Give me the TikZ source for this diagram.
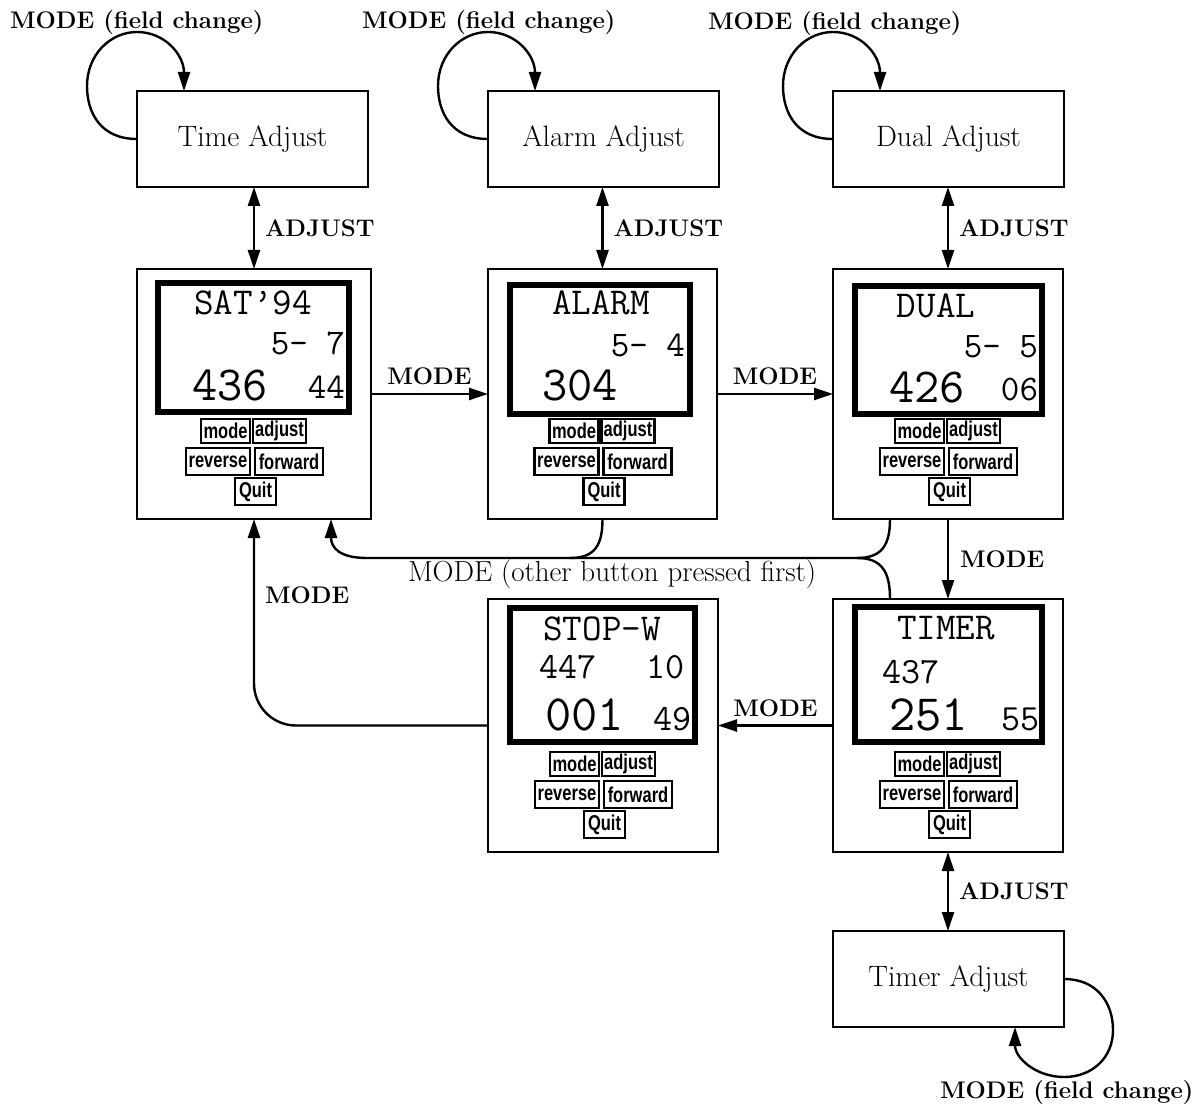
\documentclass[tikz,border=0pt]{standalone}
\usepackage{graphicx}
\usepackage{fontspec}
\usetikzlibrary{arrows.meta,calc}
\newfontfamily\btnfont{Liberation Sans}
\newcommand{\dtxt}[2]{{\ttfamily\fontsize{#1}{#1}\selectfont #2}}
\newcommand{\btxt}[1]{\scalebox{1}[1.3]{\btnfont\bfseries\fontsize{16.5}{17}\selectfont #1}}
\tikzset{
  lbl/.style={font=\fontsize{24}{28}\selectfont\bfseries, inner sep=0pt, outer sep=0pt},
  txt/.style={font=\fontsize{29}{33}\selectfont\addfontfeatures{FakeBold=0.5}, inner sep=0pt, outer sep=0pt},
  adjbox/.style={draw, line width=2.2pt, minimum width=231pt, minimum height=96pt, anchor=north west, inner sep=0pt, outer sep=0pt, font=\fontsize{29.5}{33}\selectfont\addfontfeatures{FakeBold=0.5}},
  watch/.style={draw, line width=2pt, anchor=north west, inner sep=0pt, outer sep=0pt},
  lcd/.style={draw, line width=6pt, anchor=north west, inner sep=0pt, outer sep=0pt},
  btn/.style={draw, line width=2.4pt, anchor=north west, inner sep=0pt, outer sep=0pt},
  dt/.style={inner sep=0pt, outer sep=0pt},
  arr/.style={line width=2.4pt, -{Triangle[length=19pt,width=12pt]}},
  dbl/.style={line width=2.4pt, {Triangle[length=19pt,width=12pt]}-{Triangle[length=19pt,width=12pt]}},
  plain/.style={line width=2.4pt}
}
\newcommand{\watchunit}[9]{%
  \node[watch, minimum width=#4pt, minimum height=#5pt] (#1) at (#2,#3) {};
  \node[lcd, minimum width=#8pt, minimum height=#9pt] (#1-lcd) at (#6,#7) {};
  \node[btn, minimum width=49pt, minimum height=24pt] (#1-mode) at ($(#1.south)+(-53,-100)$) {\btxt{mode}};
  \node[btn, minimum width=53pt, minimum height=24pt] (#1-adj) at ($(#1.south)+(-1,-100)$) {\btxt{adjust}};
  \node[btn, minimum width=64pt, minimum height=27pt] (#1-rev) at ($(#1.south)+(-68,-71)$) {\btxt{reverse}};
  \node[btn, minimum width=68pt, minimum height=27pt] (#1-fwd) at ($(#1.south)+(1,-71)$) {\btxt{forward}};
  \node[btn, minimum width=41pt, minimum height=27pt] (#1-quit) at ($(#1.south)+(-19,-41)$) {\btxt{Quit}};
}
\begin{document}
\begin{tikzpicture}[x=1pt,y=-1pt]
\fill[white] (0,0) rectangle (1194,1107);
\useasboundingbox (0,0) rectangle (1194,1107);

% adjust boxes
\node[adjbox] (ta) at (137,91) {Time Adjust};
\node[adjbox] (aa) at (488,91) {Alarm Adjust};
\node[adjbox] (da) at (833,91) {Dual Adjust};
\node[adjbox] (tia) at (833,931) {Timer Adjust};

% watches
\watchunit{sat}{137}{269}{234}{250}{158}{283}{191}{129}
\watchunit{alarm}{488}{269}{229}{250}{510}{285}{180}{129}
\watchunit{dual}{833}{269}{230}{250}{855}{286}{187}{128}
\watchunit{stop}{488}{599}{230}{253}{510}{608}{185}{134}
\watchunit{timer}{833}{599}{230}{253}{855}{607}{187}{135}

% display texts
\node[dt, anchor=base] (s1) at (253,315) {\dtxt{38}{SAT’94}};
\node[dt, anchor=base east] (s2) at (345,354) {\dtxt{36}{5- 7}};
\node[dt, anchor=base west] (s3) at (192,400) {\dtxt{49}{436}};
\node[dt, anchor=base east] (s4) at (345,398) {\dtxt{36}{44}};

\node[dt, anchor=base] (a1) at (601,315) {\dtxt{38}{ALARM}};
\node[dt, anchor=base east] (a2) at (685,356) {\dtxt{36}{5- 4}};
\node[dt, anchor=base west] (a3) at (542,400) {\dtxt{49}{304}};

\node[dt, anchor=base] (d1) at (936,317) {\dtxt{38}{DUAL}};
\node[dt, anchor=base east] (d2) at (1038,357) {\dtxt{36}{5- 5}};
\node[dt, anchor=base west] (d3) at (889,402) {\dtxt{49}{426}};
\node[dt, anchor=base east] (d4) at (1038,400) {\dtxt{36}{06}};

\node[dt, anchor=base] (w1) at (602,640) {\dtxt{38}{STOP-W}};
\node[dt, anchor=base west] (w2) at (539,678) {\dtxt{37}{447}};
\node[dt, anchor=base east] (w3) at (685,678) {\dtxt{37}{10}};
\node[dt, anchor=base west] (w4) at (545,730) {\dtxt{51}{001}};
\node[dt, anchor=base east] (w5) at (692,730) {\dtxt{37}{49}};

\node[dt, anchor=base] (t1) at (946,639) {\dtxt{38}{TIMER}};
\node[dt, anchor=base west] (t2) at (882,683) {\dtxt{37}{437}};
\node[dt, anchor=base west] (t3) at (889,730) {\dtxt{51}{251}};
\node[dt, anchor=base east] (t4) at (1040,730) {\dtxt{37}{55}};

% self loops
\draw[arr] (ta.west) .. controls (100,139) and (87,112) .. (87,86) .. controls (87,55) and (110,32) .. (137,32) .. controls (165,32) and (184,55) .. (184,91);
\draw[arr] (aa.west) .. controls (451,139) and (438,112) .. (438,86) .. controls (438,55) and (461,32) .. (488,32) .. controls (516,32) and (535,55) .. (535,91);
\draw[arr] (da.west) .. controls (796,139) and (783,112) .. (783,86) .. controls (783,55) and (806,32) .. (833,32) .. controls (861,32) and (880,55) .. (880,91);
\draw[arr] (tia.east) .. controls (1097,979) and (1113,1003) .. (1113,1030) .. controls (1113,1058) and (1092,1077) .. (1064,1077) .. controls (1036,1077) and (1015,1058) .. (1015,1027);

\node[lbl, anchor=base west] (l1) at (10,29) {MODE (field change)};
\node[lbl, anchor=base west] (l2) at (362,29) {MODE (field change)};
\node[lbl, anchor=base west] (l3) at (708,30) {MODE (field change)};
\node[lbl, anchor=base west] (l4) at (940,1098) {MODE (field change)};

% ADJUST arrows
\draw[dbl] (sat.north |- ta.south) -- (sat.north) node[midway, lbl, anchor=west, xshift=11pt] {ADJUST};
\draw[dbl] (alarm.north |- aa.south) -- (alarm.north) node[midway, lbl, anchor=west, xshift=11pt] {ADJUST};
\draw[dbl] (dual.north |- da.south) -- (dual.north) node[midway, lbl, anchor=west, xshift=11pt] {ADJUST};
\draw[dbl] (timer.south) -- (timer.south |- tia.north) node[midway, lbl, anchor=west, xshift=11pt] {ADJUST};

% MODE transitions
\draw[arr] (sat.east) -- (alarm.west) node[midway, lbl, above=9pt] {MODE};
\draw[arr] (alarm.east) -- (dual.west) node[midway, lbl, above=9pt] {MODE};
\draw[arr] (dual.south) -- (timer.north) node[midway, lbl, anchor=west, xshift=12pt] {MODE};
\draw[arr] (timer.west) -- (stop.east) node[midway, lbl, above=9pt] {MODE};
\draw[arr, rounded corners=42pt] (stop.west) -| (sat.south);
\node[lbl, anchor=west] (ml) at (265,595) {MODE};

% MODE (other button pressed first)
\coordinate (dB) at ($(dual.south west)+(57,0)$);
\coordinate (tT) at ($(timer.north west)+(57,0)$);
\coordinate (aB) at (alarm.south);
\coordinate (sB) at ($(sat.south east)+(-40,0)$);
\draw[arr] (dB) .. controls (890,545) and (882,558) .. (857,558) -- (367,558) .. controls (340,558) and (331,548) .. (sB);
\draw[plain] (tT) .. controls (890,572) and (882,558) .. (857,558);
\draw[plain] (aB) .. controls (602.5,545) and (595,558) .. (570,558);
\node[txt, anchor=base west] (ol) at (408,581) {MODE (other button pressed first)};
\end{tikzpicture}
\end{document}
